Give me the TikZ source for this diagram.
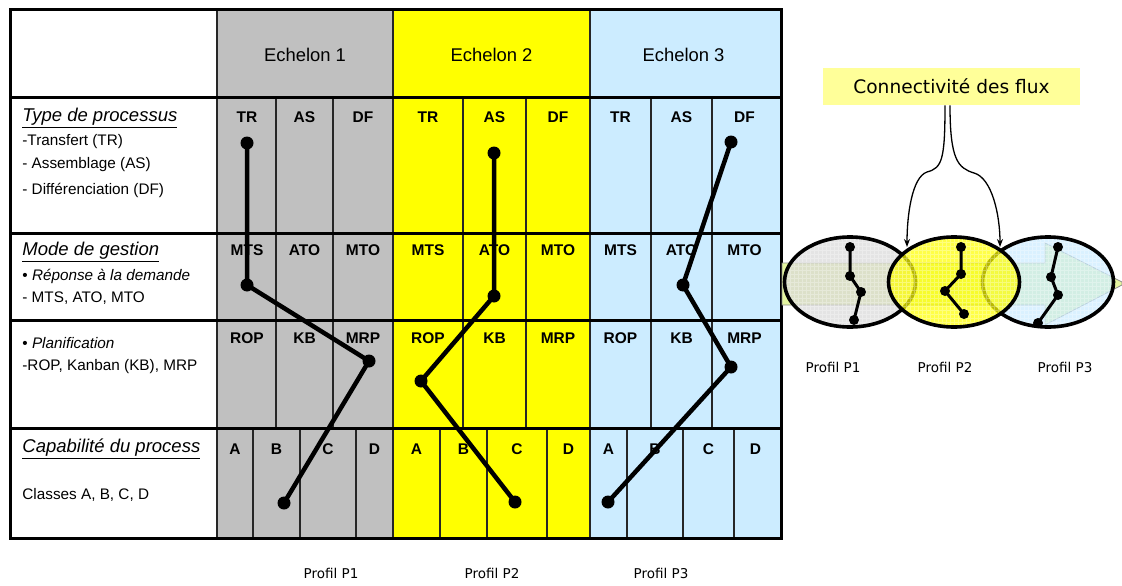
\documentclass[tikz,border=0pt]{standalone}
\usepackage{fontspec}
\setmainfont{Liberation Sans}
\newfontfamily\tahoma{DejaVu Sans}
\usetikzlibrary{shapes.geometric,arrows.meta}
\definecolor{echgris}{RGB}{192,192,192}
\definecolor{echjaune}{RGB}{255,255,0}
\definecolor{echbleu}{RGB}{204,236,255}
\definecolor{fluxjaune}{RGB}{255,255,153}
\definecolor{flechevert}{RGB}{228,245,160}
\newcommand{\fsz}[1]{\fontsize{#1}{#1}\selectfont}
\tikzset{
  lab/.style={font=\fsz{15.5}\bfseries, inner sep=0pt},
  txt/.style={anchor=west, inner sep=0pt, font=\fsz{15.3}},
  titre/.style={anchor=west, inner sep=0pt, font=\fsz{18.5}\itshape},
  ech/.style={inner sep=0pt, font=\fsz{18.4}},
  grille/.style={line width=1.2pt, draw=black!85},
  bord/.style={line width=3pt},
  pt/.style={circle, fill=black, inner sep=0pt, minimum size=13pt},
  petitpt/.style={circle, fill=black, inner sep=0pt, minimum size=10pt},
  profil/.style={line width=4.5pt},
  petitprofil/.style={line width=3pt},
  bulle/.style={ellipse, draw, line width=3.6pt, inner sep=0pt,
    minimum width=131pt, minimum height=90pt, fill opacity=.72,
    path picture={\draw[white, opacity=.3, line width=.5pt, step=4pt]
      (path picture bounding box.south west) grid (path picture bounding box.north east);}},
  nomprofil/.style={inner sep=0pt, font=\tahoma\fsz{13.5}},
  lien/.style={line width=1.3pt, -{Stealth[length=8pt,width=6pt]}}
}
\begin{document}
\begin{tikzpicture}[x=1pt,y=-1pt,thick]
\useasboundingbox (0,0) rectangle (1122,586);
% fonds des echelons
\fill[echgris] (217,10) rectangle (393,538);
\fill[echjaune] (393,10) rectangle (590,538);
\fill[echbleu] (590,10) rectangle (781,538);
% lignes du tableau
\foreach \x in {276,333,463,526,651,712} \draw[grille] (\x,97) -- (\x,428);
\foreach \x in {253,300,356,440,487,547,627,683,734} \draw[grille] (\x,428) -- (\x,538);
\foreach \x in {217,393,590} \draw[grille] (\x,10) -- (\x,538);
\foreach \y in {97,233,320,428} \draw[bord] (10,\y) -- (781,\y);
\draw[bord] (10,10) rectangle (781,538);
% en-tetes
\node[ech] (ech1) at (305,55) {Echelon 1};
\node[ech] (ech2) at (491.5,55) {Echelon 2};
\node[ech] (ech3) at (683.5,55) {Echelon 3};
% colonne de gauche
\node[titre] (type) at (22,118) {\underline{Type de processus}};
\node[txt] (tr) at (22,142) {-Transfert (TR)};
\node[txt] (as) at (22,165) {- Assemblage (AS)};
\node[txt] (df) at (22,190) {- Différenciation (DF)};
\node[titre] (mode) at (22,252) {\underline{Mode de gestion}};
\node[txt] (rep) at (22,276) {\textbullet\ \textit{Réponse à la demande}};
\node[txt] (mts) at (22,298) {- MTS, ATO, MTO};
\node[txt] (plan) at (22,343) {\textbullet\ \textit{Planification}};
\node[txt] (rop) at (22,367) {-ROP, Kanban (KB), MRP};
\node[titre] (cap) at (22,449) {\underline{Capabilité du process}};
\node[txt] (cl) at (22,495) {Classes A, B, C, D};
% etiquettes des sous-colonnes
\foreach \x/\t [count=\i] in {247/TR,304.5/AS,363/DF,428/TR,494.5/AS,558/DF,620.5/TR,681.5/AS,744.5/DF}
  \node[lab] (ty\i) at (\x,117) {\t};
\foreach \x/\t [count=\i] in {247/MTS,304.5/ATO,363/MTO,428/MTS,494.5/ATO,558/MTO,620.5/MTS,681.5/ATO,744.5/MTO}
  \node[lab] (mg\i) at (\x,250) {\t};
\foreach \x/\t [count=\i] in {247/ROP,304.5/KB,363/MRP,428/ROP,494.5/KB,558/MRP,620.5/ROP,681.5/KB,744.5/MRP}
  \node[lab] (pl\i) at (\x,338) {\t};
\foreach \x/\t [count=\i] in {235/A,276.5/B,328/C,374.5/D,416.5/A,463.5/B,517/C,568.5/D,608.5/A,655/B,708.5/C,755.5/D}
  \node[lab] (ca\i) at (\x,449) {\t};
% profils P1, P2, P3
\node[pt] (p1a) at (247,143) {};%TR
\node[pt] (p1b) at (247,285) {};%MTS
\node[pt] (p1c) at (369,361) {};%MRP
\node[pt] (p1d) at (284,503) {};%B
\node[pt] (p2a) at (494,153) {};%AS
\node[pt] (p2b) at (494,296) {};%ATO
\node[pt] (p2c) at (421,381) {};%ROP
\node[pt] (p2d) at (515,502) {};%C
\node[pt] (p3a) at (731,142) {};%DF
\node[pt] (p3b) at (683,285) {};%ATO
\node[pt] (p3c) at (731,367) {};%MRP
\node[pt] (p3d) at (608,502) {};%A
\draw[profil] (p1a.center) -- (p1b.center) -- (p1c.center) -- (p1d.center);
\draw[profil] (p2a.center) -- (p2b.center) -- (p2c.center) -- (p2d.center);
\draw[profil] (p3a.center) -- (p3b.center) -- (p3c.center) -- (p3d.center);
\node[nomprofil] (bas1) at (331,573) {Profil P1};
\node[nomprofil] (bas2) at (492,573) {Profil P2};
\node[nomprofil] (bas3) at (661,573) {Profil P3};
% fleche de flux et bulles
\filldraw[fill=flechevert, draw=black!45, line width=.8pt] (782,263) -- (1045,263) -- (1045,243)
  -- (1122,282) -- (1122,285) -- (1045,325) -- (1045,305) -- (782,305) -- cycle;
\node[bulle, fill=black!15] (b1) at (850,282) {};
\node[bulle, fill=echbleu] (b3) at (1048,282) {};
\node[bulle, fill=echjaune] (b2) at (954,282) {};
\node[petitpt] (m1a) at (850,247) {};
\node[petitpt] (m1b) at (850,276) {};
\node[petitpt] (m1c) at (861,292) {};
\node[petitpt] (m1d) at (854,320) {};
\node[petitpt] (m2a) at (961,247) {};
\node[petitpt] (m2b) at (961,274) {};
\node[petitpt] (m2c) at (945,291) {};
\node[petitpt] (m2d) at (964,314) {};
\node[petitpt] (m3a) at (1058,247) {};
\node[petitpt] (m3b) at (1051,277) {};
\node[petitpt] (m3c) at (1058,295) {};
\node[petitpt] (m3d) at (1038,323) {};
\draw[petitprofil] (m1a.center) -- (m1b.center) -- (m1c.center) -- (m1d.center);
\draw[petitprofil] (m2a.center) -- (m2b.center) -- (m2c.center) -- (m2d.center);
\draw[petitprofil] (m3a.center) -- (m3b.center) -- (m3c.center) -- (m3d.center);
\node[nomprofil] (nom1) at (833,367) {Profil P1};
\node[nomprofil] (nom2) at (945,367) {Profil P2};
\node[nomprofil] (nom3) at (1065,367) {Profil P3};
% connectivite
\node[fill=fluxjaune, minimum width=257pt, minimum height=37pt, inner sep=0pt,
  font=\tahoma\fsz{18.6}] (flux) at (951.5,86.5) {Connectivité des flux};
\coordinate (inG) at (907,247);
\coordinate (inD) at (1000,247);
\draw[lien] ([xshift=-6.5pt]flux.south) .. controls (945,160) and (942,168) .. (927,172)
  .. controls (912,177) and (907,215) .. (inG);
\draw[lien] ([xshift=-1.5pt]flux.south) .. controls (950,160) and (958,168) .. (974,173)
  .. controls (992,178) and (1000,215) .. (inD);
\end{tikzpicture}
\end{document}
